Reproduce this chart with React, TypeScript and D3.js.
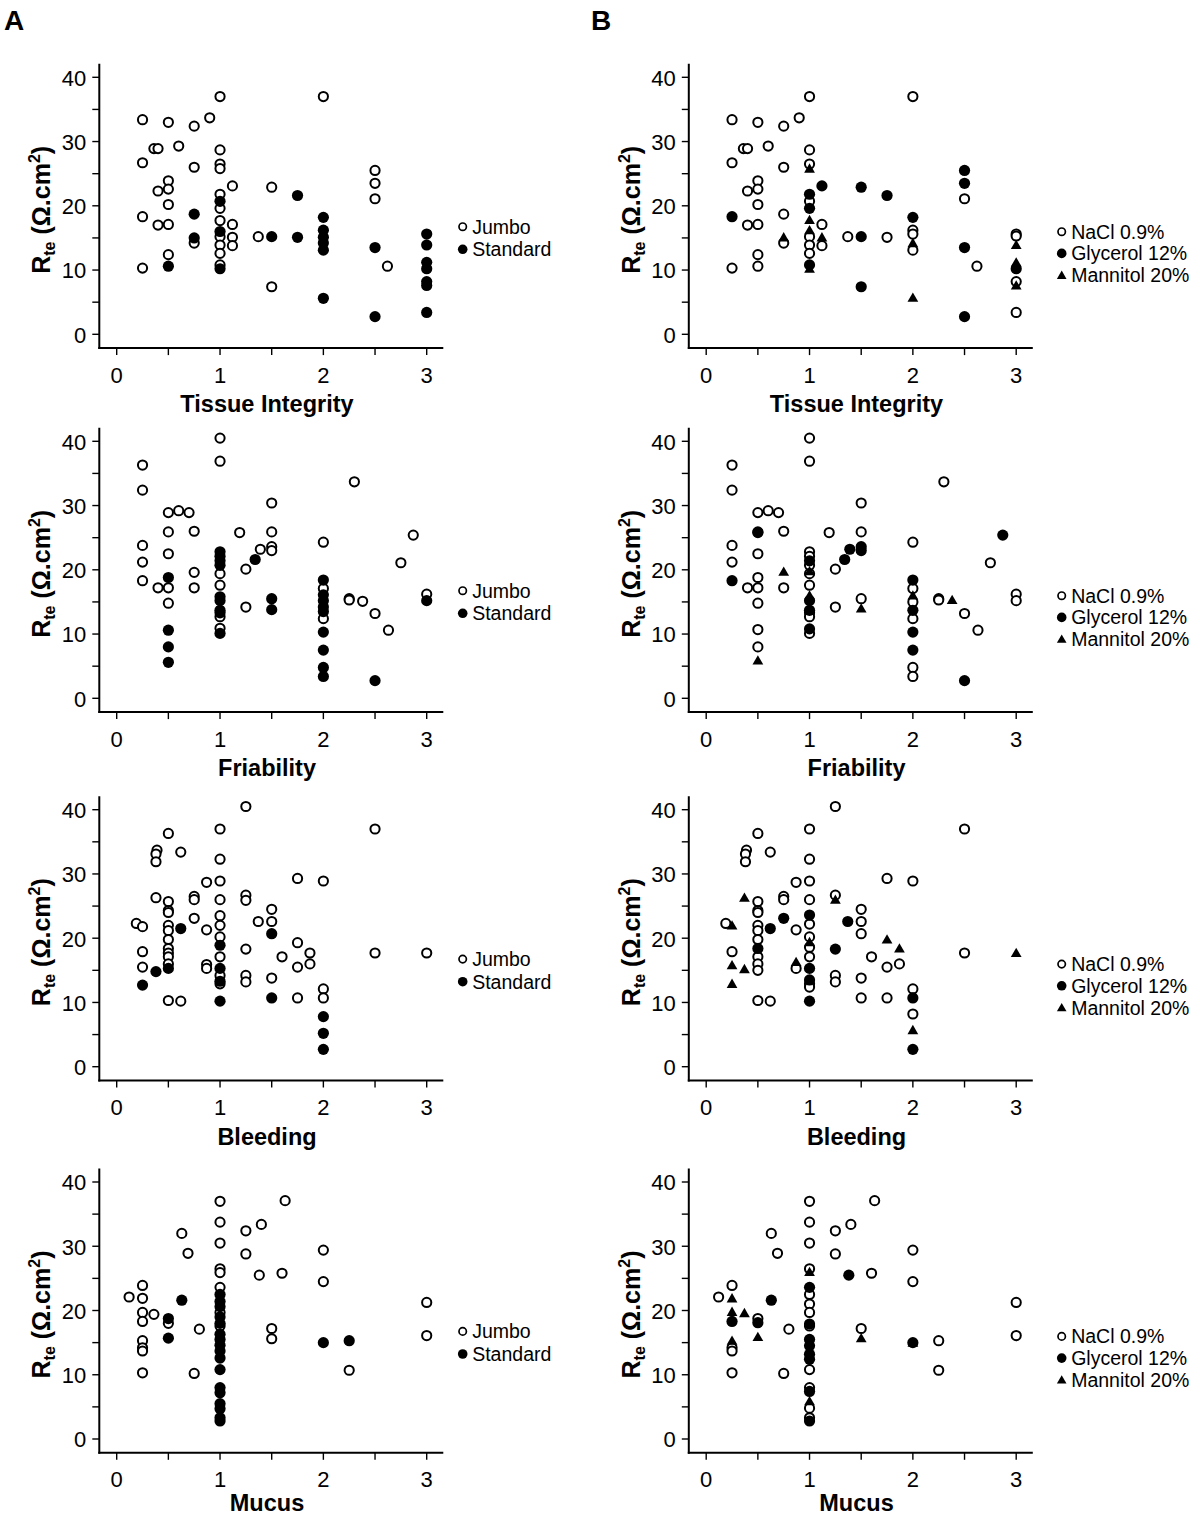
import React from 'react';
import * as d3 from 'd3';

type Pt = [number, number];
type Marker = 'open' | 'filled' | 'triangle';

const FONT = "'Liberation Sans', Arial, Helvetica, sans-serif";

// ---------- axes ----------
const xTickLabels = [0, 1, 2, 3];
const xTickMarks = [0, 0.5, 1, 1.5, 2, 2.5, 3];
const yTickLabels = [0, 10, 20, 30, 40];
const yTickMarks = [0, 5, 10, 15, 20, 25, 30, 35, 40];

const variables = ['Tissue Integrity', 'Friability', 'Bleeding', 'Mucus'];
const groupsA = ['Jumbo', 'Standard'];
const groupsB = ['NaCl 0.9%', 'Glycerol 12%', 'Mannitol 20%'];
const markersA: Marker[] = ['open', 'filled'];
const markersB: Marker[] = ['open', 'filled', 'triangle'];

// ---------- Tissue Integrity ----------
const tiJumbo: Pt[] = [
  [0.25, 33.4], [0.5, 33.0], [0.75, 32.4], [0.9, 33.7], [1, 37.0], [2, 37.0],
  [0.36, 28.9], [0.4, 28.9], [0.6, 29.3], [0.25, 26.7], [0.75, 26.0], [1, 28.7], [1, 26.5], [1, 25.8],
  [0.5, 23.9], [0.4, 22.3], [0.5, 22.6], [0.5, 20.2], [0.25, 18.3], [0.4, 17.0], [0.5, 17.1], [0.5, 12.4], [0.25, 10.3],
  [1.12, 23.1], [1.12, 17.1], [1.12, 15.1], [1.12, 13.8],
  [1, 21.8], [1, 19.6], [1, 17.7], [1, 15.2], [1, 13.9], [1, 12.6], [1, 10.8],
  [0.75, 14.2], [1.37, 15.2], [1.5, 22.9], [1.5, 7.4], [2.5, 25.5], [2.5, 23.5], [2.5, 21.1], [2.62, 10.6],
];
const tiStandard: Pt[] = [
  [0.5, 10.6], [0.75, 18.7], [0.75, 15.0], [1, 20.7], [1, 16.0], [1, 10.2], [1.5, 15.2], [1.75, 21.6], [1.75, 15.1],
  [2, 18.2], [2, 16.2], [2, 15.1], [2, 14.2], [2, 13.1], [2, 5.6], [2.5, 13.5], [2.5, 2.75],
  [3, 15.6], [3, 13.9], [3, 11.2], [3, 10.2], [3, 8.2], [3, 7.6], [3, 3.4],
];
const tiNaCl: Pt[] = [
  [0.25, 33.4], [0.5, 33.0], [0.75, 32.4], [0.9, 33.7], [1, 37.0], [2, 37.0],
  [0.36, 28.9], [0.4, 28.9], [0.6, 29.3], [0.25, 26.7], [0.75, 26.0], [1, 28.7], [1, 26.5],
  [0.5, 23.9], [0.4, 22.3], [0.5, 22.6], [0.5, 20.2], [0.4, 17.0], [0.5, 17.1], [0.5, 12.4], [0.25, 10.3], [0.5, 10.6],
  [0.75, 18.7], [0.75, 14.2], [1, 20.7], [1, 15.2], [1, 13.9], [1, 12.6],
  [1.12, 17.1], [1.12, 13.8], [1.37, 15.2], [1.75, 15.1], [2, 16.2], [2, 15.6], [2, 13.1], [2.5, 21.1], [2.62, 10.6],
  [3, 15.6], [3, 15.3], [3, 8.2], [3, 3.4],
];
const tiGlycerol: Pt[] = [
  [0.25, 18.3], [1, 21.8], [1, 19.6], [1, 10.8], [1.12, 23.1], [1.5, 22.9], [1.5, 15.2], [1.5, 7.4], [1.75, 21.6],
  [2, 18.2], [2.5, 25.5], [2.5, 23.5], [2.5, 13.5], [2.5, 2.75], [3, 10.2],
];
const tiMannitol: Pt[] = [
  [1, 25.8], [1, 17.8], [1, 16.2], [1, 10.2], [0.75, 15.1], [1.12, 15.1], [2, 14.2], [2, 5.7], [3, 13.9], [3, 11.2], [3, 7.6],
];

// ---------- Friability ----------
const frJumbo: Pt[] = [
  [0.25, 36.3], [0.25, 32.4], [1, 40.5], [1, 36.9], [0.5, 28.9], [0.6, 29.2], [0.7, 28.9], [0.75, 26.0], [0.5, 25.9],
  [0.25, 23.8], [0.25, 21.2], [0.25, 18.3], [0.5, 22.5], [0.4, 17.2], [0.5, 17.2], [0.5, 14.8], [0.75, 19.6], [0.75, 17.2],
  [1, 19.4], [1, 17.6], [1, 12.7], [1, 10.9],
  [1.19, 25.8], [1.25, 20.1], [1.25, 14.2], [1.39, 23.2], [1.5, 30.4], [1.5, 25.9], [1.5, 23.6], [1.5, 23.0],
  [2, 24.3], [2, 17.1], [2, 12.4], [2.3, 33.7], [2.25, 15.5], [2.25, 15.3], [2.38, 15.1], [2.5, 13.2], [2.63, 10.6],
  [2.75, 21.1], [2.87, 25.4], [3, 16.2],
];
const frStandard: Pt[] = [
  [0.5, 18.8], [0.5, 10.6], [0.5, 8.0], [0.5, 5.6], [1, 22.8], [1, 22.1], [1, 21.4], [1, 20.7], [1, 15.8], [1, 15.2],
  [1, 13.7], [1, 13.3], [1, 10.1], [1.34, 21.6], [1.5, 15.5], [1.5, 13.8],
  [2, 18.4], [2, 16.1], [2, 15.2], [2, 14.2], [2, 13.5], [2, 10.3], [2, 7.5], [2, 4.8], [2, 3.4], [2.5, 2.75], [3, 15.2],
];
const frNaCl: Pt[] = [
  [0.25, 36.3], [0.25, 32.4], [1, 40.5], [1, 36.9], [0.5, 28.9], [0.6, 29.2], [0.7, 28.9], [0.75, 26.0], [0.5, 25.9],
  [0.25, 23.8], [0.25, 21.2], [0.5, 22.5], [0.4, 17.2], [0.5, 18.8], [0.5, 17.2], [0.5, 14.8], [0.5, 10.7], [0.5, 8.0], [0.75, 17.2],
  [1, 22.8], [1, 22.1], [1, 20.7], [1, 19.4], [1, 17.6], [1, 13.3], [1, 12.7], [1, 10.1],
  [1.19, 25.8], [1.25, 20.1], [1.25, 14.2], [1.5, 30.4], [1.5, 25.9], [1.5, 15.5],
  [2, 24.3], [2, 17.1], [2, 15.0], [2, 12.4], [2, 4.8], [2, 3.4], [2.3, 33.7], [2.25, 15.5], [2.25, 15.3],
  [2.5, 13.2], [2.63, 10.6], [2.75, 21.1], [3, 16.2], [3, 15.2],
];
const frGlycerol: Pt[] = [
  [0.25, 18.3], [0.5, 25.8], [1, 21.4], [1, 15.2], [1, 13.7], [1, 10.8], [1.34, 21.6], [1.39, 23.2], [1.5, 23.6], [1.5, 23.0],
  [2, 18.4], [2, 13.7], [2, 10.3], [2, 7.5], [2.5, 2.75], [2.87, 25.4],
];
const frMannitol: Pt[] = [
  [0.75, 19.7], [0.5, 5.9], [1, 19.8], [1, 16.0], [1.5, 14.0], [2, 16.0], [2.38, 15.3],
];

// ---------- Bleeding ----------
const blJumbo: Pt[] = [
  [1.25, 40.5], [0.5, 36.3], [1, 37.0], [2.5, 37.0], [0.39, 33.7], [0.38, 33.1], [0.38, 31.9], [0.62, 33.4], [1, 32.3],
  [0.87, 28.7], [1, 28.9], [1.75, 29.3], [2, 28.9],
  [0.38, 26.3], [0.5, 25.7], [0.5, 24.3], [0.5, 24.0], [0.5, 22.0], [0.5, 21.2], [0.5, 19.8], [0.5, 18.4], [0.5, 17.7],
  [0.5, 17.1], [0.5, 16.0], [0.5, 10.3], [0.62, 10.2],
  [0.75, 26.5], [0.75, 26.0], [0.75, 23.1], [0.87, 21.3], [0.87, 15.9], [0.87, 15.3],
  [0.19, 22.3], [0.25, 21.8], [0.25, 17.9], [0.25, 15.5],
  [1, 26.0], [1, 23.5], [1, 22.0], [1, 20.2], [1, 17.1], [1, 14.2], [1, 12.9],
  [1.25, 26.7], [1.25, 25.9], [1.25, 18.3], [1.25, 14.2], [1.25, 13.2], [1.37, 22.6], [1.5, 24.5], [1.5, 22.6], [1.5, 13.8],
  [1.6, 17.1], [1.75, 19.3], [1.75, 15.5], [1.75, 10.7], [1.87, 17.7], [1.87, 16.0], [2, 12.1], [2, 10.7], [2.5, 17.7], [3, 17.7],
];
const blStandard: Pt[] = [
  [0.25, 12.7], [0.38, 14.8], [0.62, 21.5], [0.5, 15.3], [1, 18.9], [1, 15.3], [1, 13.3], [1, 10.2],
  [1.5, 20.7], [1.5, 10.7], [2, 7.8], [2, 5.2], [2, 2.7],
];
const blNaCl: Pt[] = [
  [1.25, 40.5], [0.5, 36.3], [1, 37.0], [2.5, 37.0], [0.39, 33.7], [0.38, 33.1], [0.38, 31.9], [0.62, 33.4], [1, 32.3],
  [0.87, 28.7], [1, 28.9], [1.75, 29.3], [2, 28.9],
  [0.5, 25.7], [0.5, 24.3], [0.5, 24.0], [0.5, 22.0], [0.5, 21.2], [0.5, 19.8], [0.5, 17.1], [0.5, 16.0], [0.5, 15.0],
  [0.5, 10.3], [0.62, 10.2], [0.75, 26.5], [0.75, 26.0], [0.87, 21.3], [0.87, 15.3], [0.19, 22.3], [0.25, 17.9],
  [1, 26.0], [1, 22.2], [1, 20.2], [1, 18.6], [1, 17.1], [1, 12.9], [1, 12.4],
  [1.25, 26.7], [1.25, 14.2], [1.25, 13.2], [1.5, 24.5], [1.5, 22.6], [1.5, 20.7], [1.5, 13.8], [1.5, 10.7],
  [1.6, 17.1], [1.75, 15.5], [1.75, 10.7], [1.87, 16.0], [2, 12.1], [2, 8.2], [2.5, 17.7],
];
const blGlycerol: Pt[] = [
  [0.62, 21.5], [0.75, 23.1], [0.5, 18.4], [1, 23.6], [1, 15.3], [1, 13.5], [1, 10.2], [1.25, 18.3], [1.37, 22.6],
  [2, 10.7], [2, 2.7],
];
const blMannitol: Pt[] = [
  [0.37, 26.3], [0.25, 22.0], [0.25, 15.8], [0.25, 12.9], [0.37, 15.2], [0.87, 16.3], [1, 19.4], [1.25, 26.0],
  [1.75, 19.8], [1.87, 18.4], [2, 5.7], [3, 17.7],
];

// ---------- Mucus ----------
const muJumbo: Pt[] = [
  [1, 37.0], [1.63, 37.1], [1, 33.75], [1.4, 33.4], [1.25, 32.4], [0.63, 32.0], [1, 30.5], [0.69, 28.9], [1.25, 28.8],
  [2, 29.4], [1, 26.5], [1, 25.9], [1.38, 25.5], [1.6, 25.8], [2, 24.5], [0.25, 23.9], [0.12, 22.1], [0.25, 21.9],
  [1, 23.6], [0.25, 19.7], [0.25, 18.3], [0.36, 19.4], [0.5, 18.0], [0.8, 17.1], [1.5, 17.2], [1.5, 15.6],
  [0.25, 15.3], [0.25, 14.2], [0.25, 13.7], [0.25, 10.3], [0.75, 10.2], [2.25, 10.7], [3, 21.25], [3, 16.1],
  [1, 19.7], [1, 17.6],
];
const muStandard: Pt[] = [
  [0.63, 21.6], [0.5, 18.75], [0.5, 15.7], [1, 22.5], [1, 21.4], [1, 20.6], [1, 19.0], [1, 18.0], [1, 16.3], [1, 15.5],
  [1, 14.6], [1, 13.7], [1, 12.6], [1, 10.8], [1, 8.0], [1, 7.2], [1, 5.5], [1, 4.7], [1, 3.3], [1, 2.8],
  [2, 15.0], [2.25, 15.3],
];
const muNaCl: Pt[] = [
  [1, 37.0], [1.63, 37.1], [1, 33.75], [1.4, 33.4], [1.25, 32.4], [0.63, 32.0], [1, 30.5], [0.69, 28.9], [1.25, 28.8],
  [2, 29.4], [1, 26.5], [1.6, 25.8], [2, 24.5], [0.25, 23.9], [0.12, 22.1], [0.5, 18.75], [0.8, 17.1], [1.5, 17.2],
  [0.25, 14.2], [0.25, 13.7], [0.25, 10.3], [0.75, 10.2], [2.25, 15.3], [2.25, 10.7], [3, 21.25], [3, 16.1],
  [1, 22.5], [1, 21.0], [1, 19.7], [1, 17.6], [1, 10.8], [1, 8.0], [1, 4.8], [1, 3.3],
];
const muGlycerol: Pt[] = [
  [0.25, 18.3], [0.5, 18.1], [0.63, 21.6], [1.38, 25.5], [2, 15.0], [1, 23.6], [1, 17.9], [1, 15.5], [1, 14.5],
  [1, 13.2], [1, 12.4], [1, 7.4], [1, 2.8],
];
const muMannitol: Pt[] = [
  [0.25, 21.9], [0.25, 19.8], [0.37, 19.6], [0.5, 15.9], [0.25, 15.3], [1.5, 15.7], [2, 15.0], [1, 26.0], [1, 5.9],
];

const panelsA: Pt[][][] = [
  [tiJumbo, tiStandard],
  [frJumbo, frStandard],
  [blJumbo, blStandard],
  [muJumbo, muStandard],
];
const panelsB: Pt[][][] = [
  [tiNaCl, tiGlycerol, tiMannitol],
  [frNaCl, frGlycerol, frMannitol],
  [blNaCl, blGlycerol, blMannitol],
  [muNaCl, muGlycerol, muMannitol],
];

// ---------- layout ----------
const colX0 = [116.7, 706.2];
const rowY0 = [334.3, 698.3, 1066.7, 1439.0];
const titleBaseline = [411.5, 775.5, 1144.5, 1511];

const triPath = d3.symbol().type(d3.symbolTriangle).size(50)() as string;
const triPathSmall = d3.symbol().type(d3.symbolTriangle).size(40)() as string;

function Mark({ m, cx, cy, small }: { m: Marker; cx: number; cy: number; small?: boolean }) {
  if (m === 'open')
    return <circle cx={cx} cy={cy} r={small ? 3.7 : 4.6} fill="#fff" stroke="#000" strokeWidth={small ? 1.7 : 2} />;
  if (m === 'filled') return <circle cx={cx} cy={cy} r={small ? 4.8 : 5.6} fill="#000" />;
  return <path d={small ? triPathSmall : triPath} transform={`translate(${cx},${cy + 1})`} fill="#000" />;
}

function Panel({
  x0, y0, title, tBase, series, markers, labels, legendDX, legendDY, legendStep,
}: {
  x0: number; y0: number; title: string; tBase: number; series: Pt[][]; markers: Marker[];
  labels: string[]; legendDX: number; legendDY: number; legendStep: number;
}) {
  const x = d3.scaleLinear().domain([0, 3]).range([x0, x0 + 310]);
  const y = d3.scaleLinear().domain([0, 40]).range([y0, y0 - 257]);
  const axisX = x0 - 17.4;
  const axisY = y0 + 13.8;
  const lx = x0 + legendDX;
  const ly = y0 - legendDY;
  return (
    <g>
      {series.map((pts, si) =>
        pts.map((p, i) => <Mark key={`${si}-${i}`} m={markers[si]} cx={x(p[0])} cy={y(p[1])} />)
      )}
      <line x1={axisX} y1={y(40) - 13.5} x2={axisX} y2={axisY + 1} stroke="#000" strokeWidth={2} />
      <line x1={axisX - 1} y1={axisY} x2={x(3) + 16.6} y2={axisY} stroke="#000" strokeWidth={2} />
      {yTickMarks.map((v) => (
        <line key={`yt${v}`} x1={axisX - 7} x2={axisX} y1={y(v)} y2={y(v)} stroke="#000" strokeWidth={1.4} />
      ))}
      {xTickMarks.map((v) => (
        <line key={`xt${v}`} x1={x(v)} x2={x(v)} y1={axisY} y2={axisY + 7} stroke="#000" strokeWidth={1.4} />
      ))}
      {yTickLabels.map((v) => (
        <text key={`yl${v}`} x={axisX - 13} y={y(v) + 8.3} textAnchor="end" fontSize={22} fontFamily={FONT}>
          {v}
        </text>
      ))}
      {xTickLabels.map((v) => (
        <text key={`xl${v}`} x={x(v)} y={axisY + 34.5} textAnchor="middle" fontSize={22} fontFamily={FONT}>
          {v}
        </text>
      ))}
      <text x={x0 + 150.3} y={tBase} textAnchor="middle" fontSize={23.5} fontWeight="bold" fontFamily={FONT}>
        {title}
      </text>
      <text
        transform={`translate(${axisX - 49.3},${y(20) + 4}) rotate(-90)`}
        textAnchor="middle"
        fontSize={25}
        fontWeight="bold"
        fontFamily={FONT}
      >
        <tspan>R</tspan>
        <tspan fontSize={16} dy={5}>te</tspan>
        <tspan dy={-5}> (Ω.cm</tspan>
        <tspan fontSize={16} dy={-10}>2</tspan>
        <tspan dy={10}>)</tspan>
      </text>
      {labels.map((lab, i) => (
        <g key={lab}>
          <Mark m={markers[i]} cx={lx} cy={ly + i * legendStep} small />
          <text x={lx + 9.5} y={ly + i * legendStep + 7} fontSize={19.5} fontFamily={FONT}>
            {lab}
          </text>
        </g>
      ))}
    </g>
  );
}

export default function App() {
  return (
    <svg
      width={1200}
      height={1519}
      style={{ position: 'absolute', left: 0, top: 0, background: '#fff' }}
      xmlns="http://www.w3.org/2000/svg"
    >
      <rect width={1200} height={1519} fill="#fff" />
      <text x={4} y={30} fontSize={28} fontWeight="bold" fontFamily={FONT}>A</text>
      <text x={591} y={30} fontSize={28} fontWeight="bold" fontFamily={FONT}>B</text>
      {variables.map((v, r) => (
        <Panel
          key={`A${r}`}
          x0={colX0[0]}
          y0={rowY0[r]}
          title={v}
          tBase={titleBaseline[r]}
          series={panelsA[r]}
          markers={markersA}
          labels={groupsA}
          legendDX={346}
          legendDY={107.6}
          legendStep={22.6}
        />
      ))}
      {variables.map((v, r) => (
        <Panel
          key={`B${r}`}
          x0={colX0[1]}
          y0={rowY0[r]}
          title={v}
          tBase={titleBaseline[r]}
          series={panelsB[r]}
          markers={markersB}
          labels={groupsB}
          legendDX={355.5}
          legendDY={102.6}
          legendStep={21.7}
        />
      ))}
    </svg>
  );
}
